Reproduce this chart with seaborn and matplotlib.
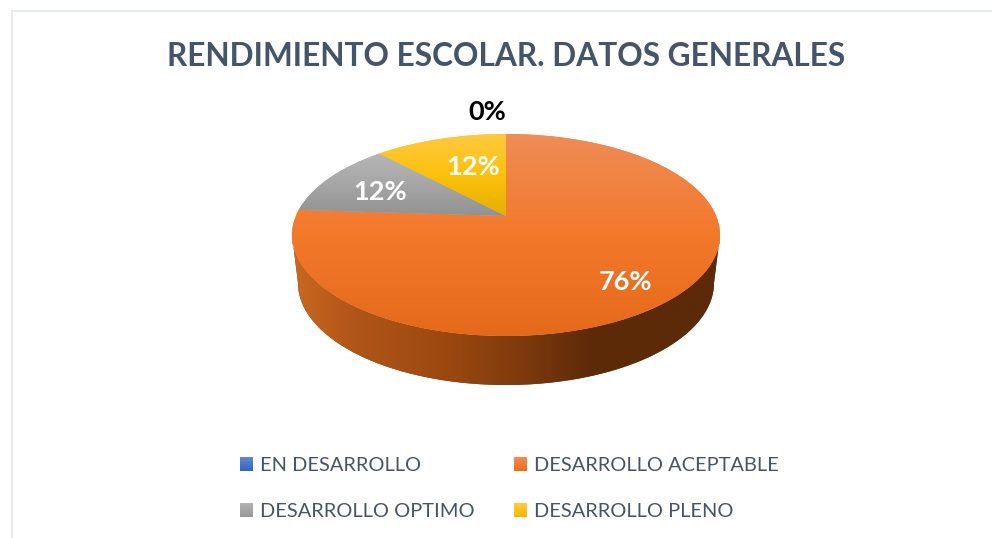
import numpy as np
import matplotlib
matplotlib.use("Agg")
import matplotlib.pyplot as plt
import matplotlib.transforms as mtransforms
from matplotlib.colors import LinearSegmentedColormap
from matplotlib.legend_handler import HandlerPatch
from matplotlib.patches import Polygon, Rectangle
import seaborn as sns

# data
categories = ["EN DESARROLLO", "DESARROLLO ACEPTABLE", "DESARROLLO OPTIMO", "DESARROLLO PLENO"]
values = [0, 76, 12, 12]
title = "RENDIMIENTO ESCOLAR. DATOS GENERALES"

# top and bottom shades of each slice
top_shades = [["#5F87D4", "#3366C0"],
              ["#EF8C56", "#F3782A", "#E4691A"],
              ["#B6B6B6", "#A6A6A6", "#929292"],
              ["#FFC942", "#FCC10A", "#E6AE00"]]
wall_shades = ["#CA681F", "#B2561A", "#9A4810", "#7F3B0E", "#5E2A09", "#5C2A08"]
legend_shades = [["#5F87D4", "#3366C0"], ["#F08C56", "#EE6E17"],
                 ["#B2B2B2", "#999999"], ["#FFCB3C", "#F5B800"]]

text_blue = "#44546A"

sns.set_theme(style="white")
plt.rcParams["font.family"] = ["Lato", "DejaVu Sans"]

# pie geometry in picture pixels
cx, cy, rx, ry = 506, 235, 214, 101
tilt = 19 / 101
bottom_cy, bottom_rx, bottom_ry = 283, 208, 102


class Perspective(mtransforms.Transform):
    # unit circle of the pie -> tilted disc, centre sits above the ellipse centre
    input_dims = 2
    output_dims = 2

    def transform_non_affine(self, values):
        values = np.asarray(values)
        u, v = values[:, 0], values[:, 1]
        w = 1 + tilt * v
        a = rx * np.sqrt(1 - tilt ** 2)
        return np.column_stack([cx + a * u / w, cy - ry * (v + tilt) / w])


class GradientHandler(HandlerPatch):
    # legend swatch made of thin strips so it keeps the shading
    def create_artists(self, legend, orig_handle, xdescent, ydescent, width, height, fontsize, trans):
        cmap = LinearSegmentedColormap.from_list("s", orig_handle.shades)
        strips = []
        n = 14
        for i in range(n):
            strips.append(Rectangle((-xdescent, -ydescent + height * (n - 1 - i) / n), width, height / n + 0.3,
                                    facecolor=cmap(i / (n - 1)), edgecolor="none", transform=trans))
        return strips


fig = plt.figure(figsize=(9.92, 5.38), dpi=100)
ax = fig.add_axes([0, 0, 1, 1])

wedges, _, autotexts = ax.pie(values, colors=[s[1] for s in top_shades], startangle=90, counterclock=False,
                              autopct="%.0f%%", frame=True, wedgeprops={"linewidth": 0})

persp = Perspective()
for w, shades in zip(wedges, top_shades):
    w.set_transform(persp + ax.transData)
    w.set_zorder(3)
    verts = persp.transform(w.get_path().vertices)
    ymin, ymax = verts[:, 1].min(), verts[:, 1].max()
    if ymax - ymin < 1:
        continue
    grad = np.linspace(0, 1, 256)[:, None]
    cmap = LinearSegmentedColormap.from_list("g", shades)
    im = ax.imshow(grad, cmap=cmap, extent=(cx - rx - 2, cx + rx + 2, ymax, ymin), origin="upper",
                   aspect="auto", zorder=4)
    im.set_clip_path(w)

# side of the pie
t = np.linspace(0, np.pi, 200)
upper = np.column_stack([cx + rx * np.cos(t), cy + ry * np.sin(t)])
lower = np.column_stack([cx + bottom_rx * np.cos(t[::-1]), bottom_cy + bottom_ry * np.sin(t[::-1])])
wall = Polygon(np.vstack([upper, lower]), closed=True, facecolor=wall_shades[3], edgecolor="none", zorder=1)
ax.add_patch(wall)
cmap_wall = LinearSegmentedColormap.from_list(
    "w", list(zip([0, 0.135, 0.37, 0.53, 0.70, 1], wall_shades)))
im = ax.imshow(np.linspace(0, 1, 512)[None, :], cmap=cmap_wall, extent=(cx - rx, cx + rx, bottom_cy + bottom_ry, cy - 5),
               aspect="auto", zorder=2)
im.set_clip_path(wall)

ax.set_xlim(0, 992)
ax.set_ylim(538, 0)
ax.set_aspect("auto")
ax.axis("off")

# percent labels
label_pos = [(487, 112), (626, 282), (380, 192), (473, 167)]
label_colors = ["black", "white", "white", "white"]
for txt, pos, col in zip(autotexts, label_pos, label_colors):
    txt.set_position(pos)
    txt.set_color(col)
    txt.set_fontsize(19.5)
    txt.set_fontweight("bold")
    txt.set_zorder(6)

ax.text(506, 56, title, ha="center", va="center", color=text_blue, fontsize=22.8, fontweight="bold")

# chart border, cut by the picture on the right and the bottom
ax.plot([992, 12, 12], [10.5, 10.5, 538], color="#E3E7EE", lw=1.2, zorder=0, solid_joinstyle="miter")

# legend
handles = []
for shades in legend_shades:
    h = Rectangle((0, 0), 1, 1)
    h.shades = shades
    handles.append(h)
order = [0, 2, 1, 3]
ax.legend([handles[i] for i in order], [categories[i] for i in order], ncol=2, frameon=False,
          handler_map={Rectangle: GradientHandler()},
          loc="center", bbox_to_anchor=(509.5 / 992, 1 - 488.5 / 538), fontsize=14.4,
          labelcolor=text_blue, handlelength=0.65, handleheight=0.7, handletextpad=0.35,
          labelspacing=1.45, columnspacing=1.95)

fig.savefig("out.png", dpi=100)
